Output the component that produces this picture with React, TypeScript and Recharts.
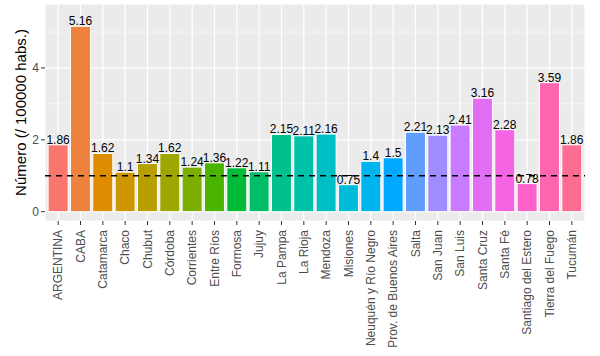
import { BarChart, Bar, XAxis, YAxis, CartesianGrid, ReferenceLine, LabelList, Cell } from 'recharts'

const provinces = [
  'ARGENTINA', 'CABA', 'Catamarca', 'Chaco', 'Chubut', 'Córdoba', 'Corrientes', 'Entre Ríos',
  'Formosa', 'Jujuy', 'La Pampa', 'La Rioja', 'Mendoza', 'Misiones', 'Neuquén y Río Negro',
  'Prov. de Buenos Aires', 'Salta', 'San Juan', 'San Luis', 'Santa Cruz', 'Santa Fé',
  'Santiago del Estero', 'Tierra del Fuego', 'Tucumán',
]
const rates = [
  1.86, 5.16, 1.62, 1.1, 1.34, 1.62, 1.24, 1.36,
  1.22, 1.11, 2.15, 2.11, 2.16, 0.75, 1.4,
  1.5, 2.21, 2.13, 2.41, 3.16, 2.28,
  0.78, 3.59, 1.86,
]
const yTicks = [0, 2, 4]
const minorTicks = [1, 3, 5]
const reference = 1

const FONT = '"Liberation Sans", Arial, Helvetica, sans-serif'

// ggplot2 default hue palette: hcl(h, c = 100, l = 65)
function hcl(h: number, c = 100, l = 65) {
  const hr = (h * Math.PI) / 180
  const u = c * Math.cos(hr)
  const v = c * Math.sin(hr)
  const Xn = 95.047, Yn = 100, Zn = 108.883
  const den = Xn + 15 * Yn + 3 * Zn
  const un = (4 * Xn) / den
  const vn = (9 * Yn) / den
  const Y = Yn * Math.pow((l + 16) / 116, 3)
  const up = u / (13 * l) + un
  const vp = v / (13 * l) + vn
  const X = (Y * 9 * up) / (4 * vp)
  const Z = (Y * (12 - 3 * up - 20 * vp)) / (4 * vp)
  const x = X / 100, y = Y / 100, z = Z / 100
  const lin = [
    3.2404542 * x - 1.5371385 * y - 0.4985314 * z,
    -0.969266 * x + 1.8760108 * y + 0.041556 * z,
    0.0556434 * x - 0.2040259 * y + 1.0572252 * z,
  ]
  return '#' + lin.map((ch) => {
    const g = ch <= 0.0031308 ? 12.92 * ch : 1.055 * Math.pow(ch, 1 / 2.4) - 0.055
    const n = Math.round(Math.min(1, Math.max(0, g)) * 255)
    return n.toString(16).padStart(2, '0')
  }).join('')
}

const colors = provinces.map((_, i) => hcl(15 + (360 / provinces.length) * i))

const data = provinces.map((name, i) => ({ name, value: rates[i] }))

const XTick = ({ x, y, payload }: any) => (
  <text
    x={x}
    y={y + 3}
    transform={`rotate(-90, ${x}, ${y + 3})`}
    textAnchor="end"
    dominantBaseline="central"
    fontSize={12}
    fontFamily={FONT}
    fill="#4d4d4d"
  >
    {payload.value}
  </text>
)

export default function App() {
  return (
    <div style={{ position: 'absolute', left: 0, top: 0, background: 'white' }}>
      <BarChart
        width={600}
        height={356}
        data={data}
        margin={{ top: 4, right: 15, bottom: 0, left: 0 }}
        barCategoryGap="5%"
      >
        <CartesianGrid fill="#ebebeb" stroke="#ffffff" strokeWidth={0.6} vertical={false} horizontalValues={minorTicks} />
        <CartesianGrid stroke="#ffffff" strokeWidth={1.2} />
        <XAxis
          dataKey="name"
          interval={0}
          height={135}
          padding={{ left: 2, right: 2 }}
          axisLine={false}
          tickLine={{ stroke: '#333333' }}
          tickSize={4}
          tick={<XTick />}
        />
        <YAxis
          width={45}
          domain={[-0.26, 5.78]}
          ticks={yTicks}
          allowDataOverflow
          axisLine={false}
          tickLine={{ stroke: '#333333' }}
          tickSize={4}
          tickMargin={2}
          tick={{ fontSize: 12, fill: '#4d4d4d', fontFamily: FONT }}
          label={{
            content: () => (
              <text
                x={20}
                y={112.5}
                transform="rotate(-90, 20, 112.5)"
                textAnchor="middle"
                dominantBaseline="central"
                fontSize={15}
                fontFamily={FONT}
                fill="#000"
              >
                Número (/ 100000 habs.)
              </text>
            ),
          }}
        />
        <Bar dataKey="value" stroke="#ffffff" strokeWidth={1} isAnimationActive={false}>
          {data.map((d, i) => (
            <Cell key={d.name} fill={colors[i]} />
          ))}
          <LabelList dataKey="value" position="top" offset={1} fontSize={12} fontFamily={FONT} fill="#000" />
        </Bar>
        <ReferenceLine y={reference} stroke="#000" strokeWidth={1.3} strokeDasharray="6 5" />
      </BarChart>
    </div>
  )
}
